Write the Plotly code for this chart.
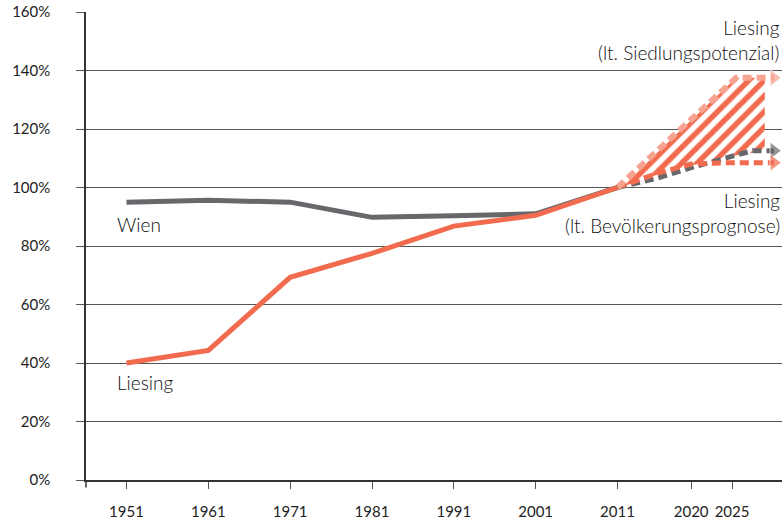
import plotly.graph_objects as go

# Historical data (index, 2011 = 100%)
years = [1951, 1961, 1971, 1981, 1991, 2001, 2011]
wien = [95.0, 95.6, 95.0, 89.8, 90.3, 91.0, 100]
liesing = [40.0, 44.3, 69.3, 77.5, 86.8, 90.5, 100]

# Projections
wien_proj_years = [2011, 2016, 2020, 2025, 2027.5, 2030.1]
wien_proj = [100, 103.3, 106.8, 110.8, 112.6, 112.6]
prog_years = [2011, 2016, 2020, 2025, 2030.1]
liesing_prog = [100, 105.0, 108.0, 108.5, 108.5]
pot_years = [2011, 2025.5, 2030.1]
liesing_pot = [100, 137.5, 137.5]

# hatched area polygon (between potential and forecast)
hatch_x = [2011.3, 2025.5, 2029.0, 2029.0, 2025, 2020, 2016, 2011.3]
hatch_y = [100, 137.5, 137.5, 112.5, 110.8, 107.5, 104.5, 100]

xtick_vals = [1951, 1961, 1971, 1981, 1991, 2001, 2011, 2020, 2025]
ytick_vals = [0, 20, 40, 60, 80, 100, 120, 140, 160]
ytick_text = [f"{v}%" for v in ytick_vals]

ORANGE = "#f26b4e"
GRAY = "#67676c"
SALMON = "#f6a392"
FONT = "Lato"

fig = go.Figure()

fig.add_trace(go.Scatter(
    x=hatch_x, y=hatch_y, mode="lines", fill="toself",
    line=dict(width=0, color="rgba(0,0,0,0)"),
    fillcolor="white",
    fillpattern=dict(shape="/", fgcolor=ORANGE, bgcolor="white", fgopacity=1,
                     size=11, solidity=0.5),
    hoverinfo="skip", showlegend=False))

fig.add_trace(go.Scatter(
    x=wien_proj_years, y=wien_proj, mode="lines+markers",
    line=dict(color=GRAY, width=5, dash="9px,5px"),
    marker=dict(symbol="triangle-right", size=[0]*(len(wien_proj)-1) + [15], color=GRAY),
    showlegend=False))

fig.add_trace(go.Scatter(
    x=prog_years, y=liesing_prog, mode="lines+markers",
    line=dict(color=ORANGE, width=5, dash="9px,5px"),
    marker=dict(symbol="triangle-right", size=[0]*(len(liesing_prog)-1) + [15], color=ORANGE),
    showlegend=False))

fig.add_trace(go.Scatter(
    x=pot_years, y=liesing_pot, mode="lines+markers",
    line=dict(color=SALMON, width=6, dash="9px,5px"),
    marker=dict(symbol="triangle-right", size=[0]*(len(liesing_pot)-1) + [15], color=SALMON),
    showlegend=False))

fig.add_trace(go.Scatter(
    x=years, y=wien, mode="lines", line=dict(color=GRAY, width=5), showlegend=False))
fig.add_trace(go.Scatter(
    x=years, y=liesing, mode="lines", line=dict(color=ORANGE, width=5), showlegend=False))

txt = dict(family=FONT, size=19, color="#111111", weight=300)
fig.add_annotation(x=1949.6, y=87.2, text="Wien", showarrow=False, xanchor="left", font=txt)
fig.add_annotation(x=1949.6, y=33.2, text="Liesing", showarrow=False, xanchor="left", font=txt)
fig.add_annotation(x=1, xref="paper", y=150.3, text="Liesing<br>(lt. Siedlungspotenzial)",
                   showarrow=False, xanchor="right", align="right", font=txt)
fig.add_annotation(x=1, xref="paper", y=91.3, text="Liesing<br>(lt. Bevölkerungsprognose)",
                   showarrow=False, xanchor="right", align="right", font=txt)

# small downward extension of the y axis line below the x axis
fig.add_shape(type="line", xref="paper", yref="paper", x0=0, x1=0, y0=-0.016, y1=0,
              line=dict(color="#333333", width=1.5))

fig.update_xaxes(
    range=[1946.05, 2031.1], tickvals=xtick_vals, ticktext=[str(v) for v in xtick_vals],
    showgrid=False, zeroline=False, showline=True, linecolor="#333333", linewidth=1.5,
    ticks="outside", ticklen=7, tickcolor="#555555",
    tickfont=dict(family=FONT, size=15, color="#222222"), ticklabelstandoff=10)
fig.update_yaxes(
    range=[0, 160], tickvals=ytick_vals, ticktext=ytick_text,
    showgrid=True, gridcolor="#555555", gridwidth=1, zeroline=False,
    showline=True, linecolor="#333333", linewidth=1.5,
    ticks="outside", ticklen=8, tickcolor="#555555",
    tickfont=dict(family=FONT, size=15, color="#222222"), ticklabelstandoff=23)

fig.update_layout(
    width=782, height=523, margin=dict(l=86, r=0, t=12, b=43),
    plot_bgcolor="white", paper_bgcolor="white", showlegend=False)

fig.write_html("out.html", config={"displayModeBar": False},
               post_script="document.body.style.margin='0';document.body.style.overflow='hidden';")
